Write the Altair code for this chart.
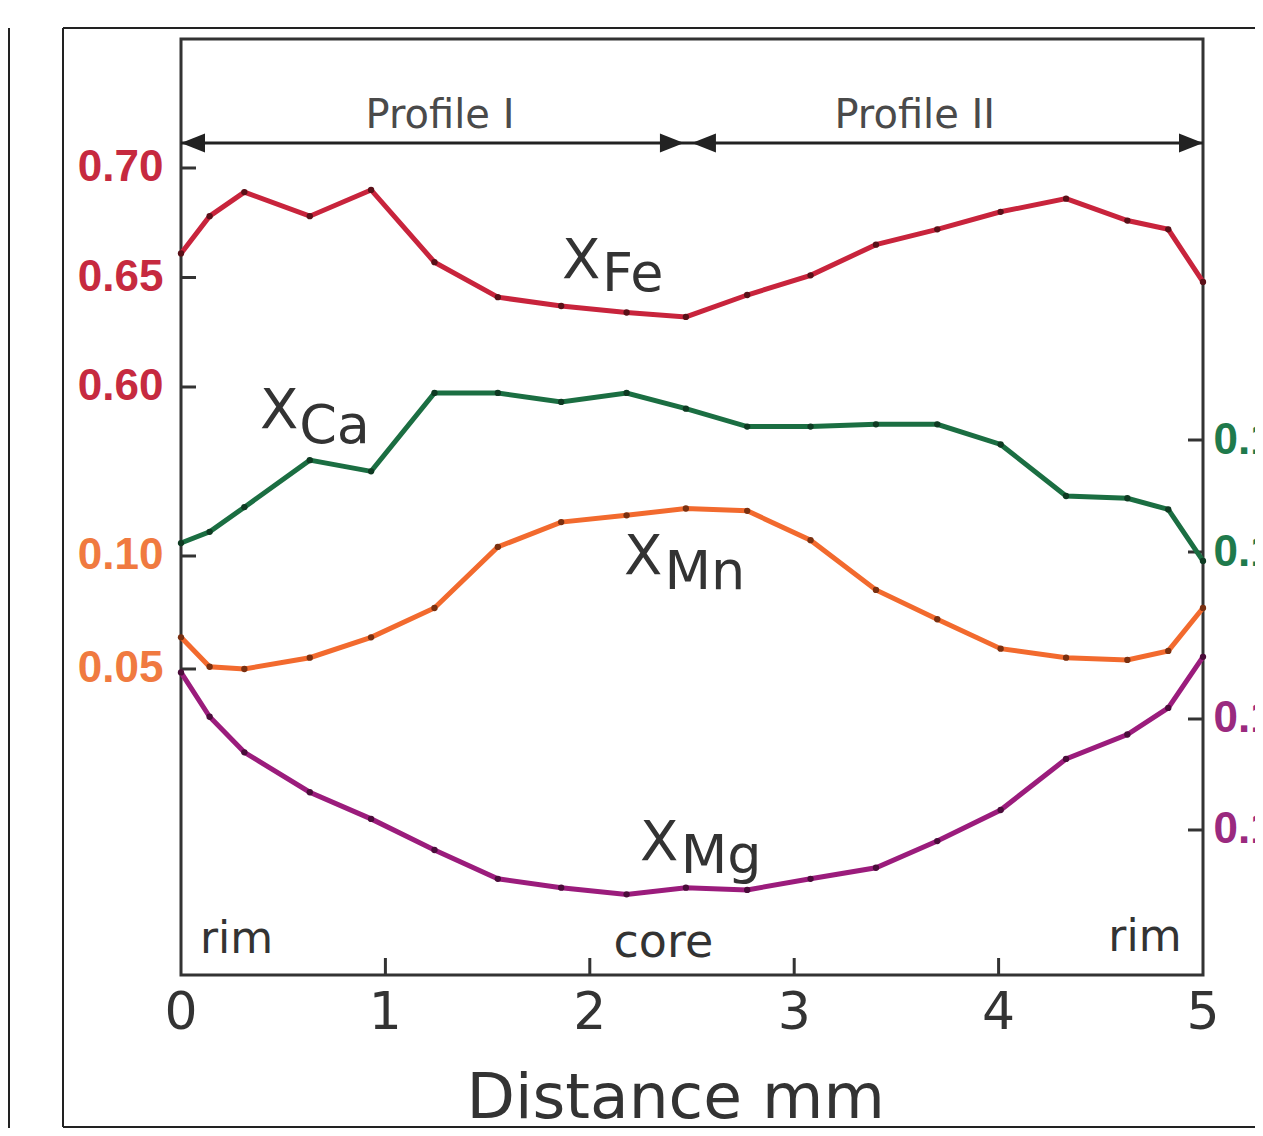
import altair as alt
import pandas as pd

# ---------------- data ----------------
distance = [0, 0.14, 0.31, 0.63, 0.93, 1.24, 1.55, 1.86, 2.18, 2.47,
            2.77, 3.08, 3.40, 3.70, 4.01, 4.33, 4.63, 4.83, 5.0]
x_fe = [0.661, 0.678, 0.689, 0.678, 0.690, 0.657, 0.641, 0.637, 0.634, 0.632,
        0.642, 0.651, 0.665, 0.672, 0.680, 0.686, 0.676, 0.672, 0.648]
x_ca = [0.104, 0.109, 0.120, 0.141, 0.136, 0.171, 0.171, 0.167, 0.171, 0.164,
        0.156, 0.156, 0.157, 0.157, 0.148, 0.125, 0.124, 0.119, 0.096]
x_mn = [0.064, 0.051, 0.050, 0.055, 0.064, 0.077, 0.104, 0.115, 0.118, 0.121,
        0.120, 0.107, 0.085, 0.072, 0.059, 0.055, 0.054, 0.058, 0.077]
x_mg = [0.171, 0.151, 0.135, 0.117, 0.105, 0.091, 0.078, 0.074, 0.071, 0.074,
        0.073, 0.078, 0.083, 0.095, 0.109, 0.132, 0.143, 0.155, 0.178]

fe_ticks = [0.70, 0.65, 0.60]
mn_ticks = [0.10, 0.05]
ca_ticks = [0.15, 0.10]
mg_ticks = [0.15, 0.10]
x_tick_labels = [0, 1, 2, 3, 4, 5]
x_inner_ticks = [1, 2, 3, 4]
x_title = "Distance mm"

# ---------------- styling ----------------
W, H = 1022, 936
LABEL_FONT = "Liberation Sans"
TEXT_FONT = "DejaVu Sans"
INK = "#333333"
ARROW = "#222222"

xscale = alt.Scale(domain=[0, 5], nice=False, zero=False)


def series_layer(values, ticks, domain, color, dot, label_color, orient):
    df = pd.DataFrame({"d": distance, "v": values})
    tdf = pd.DataFrame({"v": ticks})
    line = alt.Chart(df).mark_line(color=color, strokeWidth=5).encode(
        x=alt.X("d:Q", scale=xscale, axis=None))
    pts = alt.Chart(df).mark_circle(color=dot, size=40, opacity=1).encode(
        x=alt.X("d:Q", scale=xscale, axis=None))
    if orient == "left":
        tk = alt.Chart(tdf).mark_rule(color=INK, strokeWidth=3).encode(
            x=alt.value(0), x2=alt.value(15))
        pad = 18
    else:
        tk = alt.Chart(tdf).mark_rule(color=INK, strokeWidth=3).encode(
            x=alt.value(W - 15), x2=alt.value(W))
        pad = 10
    return alt.layer(tk, line, pts).encode(
        y=alt.Y("v:Q",
                scale=alt.Scale(domain=domain, nice=False, zero=False),
                axis=alt.Axis(orient=orient, values=ticks, format=".2f",
                              labelColor=label_color, labelFont=LABEL_FONT,
                              labelFontSize=44, labelFontWeight="bold",
                              labelPadding=pad, ticks=False, domain=False,
                              grid=False, title=None)))


fe = series_layer(x_fe, fe_ticks, [0.33151, 0.75890], "#c8243c", "#5a1018", "#c62a3f", "left")
mn = series_layer(x_mn, mn_ticks, [-0.08540, 0.32876], "#f26a2e", "#7a3010", "#f07a40", "left")
ca = series_layer(x_ca, ca_ticks, [-0.08884, 0.32902], "#1b6e42", "#0e3a22", "#1f7a4c", "right")
mg = series_layer(x_mg, mg_ticks, [0.03468, 0.45631], "#9b1c7c", "#4a0c3a", "#9a2a7f", "right")

one = pd.DataFrame({"a": [0]})

# x axis: inward ticks, tick labels and title
xticks = alt.Chart(pd.DataFrame({"d": x_inner_ticks})).mark_rule(color=INK, strokeWidth=3).encode(
    x=alt.X("d:Q", scale=xscale, axis=None),
    y=alt.value(H), y2=alt.value(H - 17))
xlabels = alt.Chart(pd.DataFrame({"d": x_tick_labels})).mark_text(
    font=TEXT_FONT, fontSize=52, color=INK, baseline="middle", align="center").encode(
    x=alt.X("d:Q", scale=xscale, axis=None),
    y=alt.value(H + 38),
    text=alt.Text("d:Q", format="d"))


def xd(v):
    return alt.XDatum(v, axis=None)


def txt(s, xmm, ypx, size, color=INK, align="left"):
    return alt.Chart(one).mark_text(text=s, font=TEXT_FONT, fontSize=size,
                                    align=align, baseline="middle", color=color).encode(
        x=xd(xmm), y=alt.value(ypx))


texts = [
    txt(x_title, 2.42, 1060, 63, align="center"),
    txt("Profile I", 1.267, 77, 40, "#4a4a4a", "center"),
    txt("Profile II", 3.59, 77, 40, "#4a4a4a", "center"),
    txt("rim", 0.093, 901, 44),
    txt("core", 2.36, 904, 46, align="center"),
    txt("rim", 4.716, 899, 44, align="center"),
    txt("X", 1.864, 222, 56), txt("Fe", 2.060, 236, 54),
    txt("X", 0.386, 372, 56), txt("Ca", 0.578, 388, 54),
    txt("X", 2.167, 518, 56), txt("Mn", 2.365, 534, 54),
    txt("X", 2.245, 804, 56), txt("Mg", 2.445, 818, 54),
]

LEFT_HEAD = "M -1 0 L 1 -0.8 L 1 0.8 Z"
RIGHT_HEAD = "M 1 0 L -1 -0.8 L -1 0.8 Z"


def head(xmm, shape, off):
    return alt.Chart(one).mark_point(shape=shape, filled=True, size=576, color=ARROW,
                                     opacity=1, strokeWidth=0, xOffset=off).encode(
        x=xd(xmm), y=alt.value(104))


arrow_line = alt.Chart(one).mark_rule(color=ARROW, strokeWidth=3).encode(
    x=xd(0), x2=alt.X2Datum(5), y=alt.value(104))
heads = [head(0, LEFT_HEAD, 12), head(2.48, RIGHT_HEAD, -16),
         head(2.48, LEFT_HEAD, 16), head(5, RIGHT_HEAD, -12)]

# figure border remnants
frame = [
    alt.Chart(one).mark_rule(color="#222", strokeWidth=2).encode(
        x=alt.value(-118), x2=alt.value(1100), y=alt.value(-11)),
    alt.Chart(one).mark_rule(color="#222", strokeWidth=2).encode(
        x=alt.value(-118), x2=alt.value(1100), y=alt.value(1088)),
    alt.Chart(one).mark_rule(color="#222", strokeWidth=2).encode(
        x=alt.value(-118), y=alt.value(-11), y2=alt.value(1088)),
    alt.Chart(one).mark_rule(color="#222", strokeWidth=2).encode(
        x=alt.value(-172), y=alt.value(-11), y2=alt.value(1100)),
]

chart = alt.layer(
    xticks, xlabels, fe, mn, ca, mg, arrow_line, *heads, *texts, *frame
).resolve_scale(y="independent").properties(
    width=W, height=H,
    autosize=alt.AutoSizeParams(type="none"),
    padding={"left": 173, "top": 31, "right": 52, "bottom": 153},
).configure(background="white").configure_view(stroke=INK, strokeWidth=3)

chart.save("out.html", embed_options={"renderer": "svg", "actions": False})
